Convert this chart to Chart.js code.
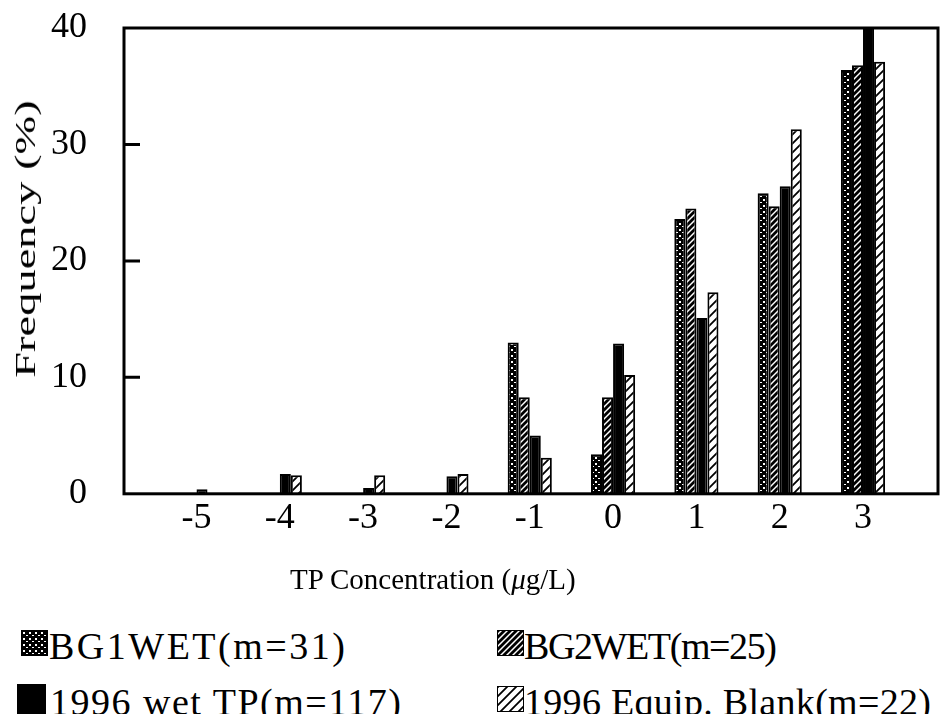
<!DOCTYPE html>
<html>
<head>
<meta charset="utf-8">
<script src="https://cdn.jsdelivr.net/npm/chart.js@4.4.1/dist/chart.umd.min.js"></script>
<style>
body{margin:0;background:#fff;}
#wrap{position:relative;width:945px;height:714px;overflow:hidden;font-family:"Liberation Serif","Times New Roman",serif;}
#cv{position:absolute;left:0;top:0;}
.lg{position:absolute;font-size:38px;line-height:38px;letter-spacing:1px;color:#000;white-space:nowrap;}
.sw{position:absolute;border:1px solid #000;}
#ytitle{position:absolute;left:25px;top:239px;font-size:30px;line-height:30px;white-space:nowrap;
  transform:translate(-50%,-50%) rotate(-90deg) scaleX(1.55);}
#xtitle{position:absolute;left:290px;top:565px;font-size:29px;line-height:29px;white-space:nowrap;}
</style>
</head>
<body>
<div id="wrap">
<canvas id="cv" width="945" height="610"></canvas>
<div id="ytitle">Frequency (%)</div>
<div id="xtitle">TP Concentration (<i>&mu;</i>g/L)</div>
<canvas class="sw" id="sw0" width="25" height="24" style="left:21px;top:630px;"></canvas>
<div class="lg" style="left:49px;top:627px;letter-spacing:2.5px;">BG1WET(m=31)</div>
<canvas class="sw" id="sw1" width="25" height="24" style="left:497px;top:630px;"></canvas>
<div class="lg" style="left:524px;top:627px;letter-spacing:-1.4px;">BG2WET(m=25)</div>
<canvas class="sw" id="sw2" width="27" height="28" style="left:17px;top:684px;"></canvas>
<div class="lg" style="left:50px;top:683px;letter-spacing:1.5px;">1996 wet TP(m=117)</div>
<canvas class="sw" id="sw3" width="25" height="24" style="left:497px;top:686px;"></canvas>
<div class="lg" style="left:524px;top:683px;letter-spacing:0.3px;">1996 Equip. Blank(m=22)</div>
</div>
<script>
// TP concentration bins (ug/L) and frequency (%) per series
var concentration=[-5,-4,-3,-2,-1,0,1,2,3];
var bg1wet=[0,0,0,0,13.0,3.4,23.6,25.8,36.4];
var bg2wet=[0,0,0,0,8.3,8.3,24.5,24.7,36.8];
var wetTP=[0.4,1.7,0.5,1.5,5.0,12.9,15.1,26.4,41];
var equipBlank=[0,1.6,1.6,1.7,3.1,10.2,17.3,31.3,37.1];
var yTicks=[0,10,20,30,40];
var seriesNames=["BG1WET(m=31)","BG2WET(m=25)","1996 wet TP(m=117)","1996 Equip. Blank(m=22)"];

/*-------------------------- hatch patterns --------------------------*/
function mkpat(kind){
    var c=document.createElement("canvas");
    var s=kind=="equip"?9:6;
    c.width=s;c.height=s;
    var g=c.getContext("2d");
    if(kind=="check"){
        g.fillStyle="#000";g.fillRect(0,0,s,s);
        g.fillStyle="#fff";
        g.fillRect(1,1,2,2);g.fillRect(4,4,2,1);
    }
    else if(kind=="solid"){
        g.fillStyle="#000";g.fillRect(0,0,s,s);
    }
    else{
        g.fillStyle="#fff";g.fillRect(0,0,s,s);
        g.strokeStyle="#000";
        g.lineWidth=kind=="dense"?2.8:1.8;
        g.beginPath();
        g.moveTo(-s,2*s);g.lineTo(2*s,-s);
        g.moveTo(-s,s);g.lineTo(s,-s);
        g.moveTo(0,2*s);g.lineTo(2*s,0);
        g.stroke();
    }
    return g.createPattern(c,"repeat");
}
var pats=[mkpat("check"),mkpat("dense"),mkpat("solid"),mkpat("equip")];

for(var k=0;k<4;k++){
    var el=document.getElementById("sw"+k);
    var sc=el.getContext("2d");
    sc.fillStyle=pats[k];
    sc.fillRect(0,0,el.width,el.height);
}

function pts(arr){
    var out=[];
    for(var i=0;i<concentration.length;i++){
        out.push({x:concentration[i],y:arr[i]});
    }
    return out;
}

var serif="'Liberation Serif','Times New Roman',serif";

// frame + inward y tick marks
var framePlugin={
    id:"frame",
    afterDatasetsDraw:function(chart){
        var a=chart.chartArea, ctx=chart.ctx, ys=chart.scales.y;
        ctx.save();
        ctx.strokeStyle="#000";
        ctx.lineWidth=3;
        ctx.strokeRect(a.left,a.top,a.right-a.left,a.bottom-a.top);
        ctx.beginPath();
        for(var i=1;i<yTicks.length-1;i++){
            var py=ys.getPixelForValue(yTicks[i]);
            ctx.moveTo(a.left,py);ctx.lineTo(a.left+16,py);
        }
        ctx.stroke();
        ctx.restore();
    }
};

var ctx=document.getElementById("cv").getContext("2d");
var chart=new Chart(ctx,{
    type:"bar",
    data:{
        datasets:[
            {label:seriesNames[0],data:pts(bg1wet),backgroundColor:pats[0]},
            {label:seriesNames[1],data:pts(bg2wet),backgroundColor:pats[1]},
            {label:seriesNames[2],data:pts(wetTP),backgroundColor:pats[2]},
            {label:seriesNames[3],data:pts(equipBlank),backgroundColor:pats[3]}
        ]
    },
    options:{
        responsive:false,
        animation:false,
        layout:{padding:{left:51,right:7,top:28,bottom:67}},
        datasets:{bar:{borderColor:"#000",borderWidth:2,categoryPercentage:0.53,barPercentage:1.0}},
        plugins:{legend:{display:false},tooltip:{enabled:false}},
        scales:{
            x:{
                type:"linear",
                offset:false,
                min:-5.87,max:3.9,
                grid:{display:false,drawTicks:false},
                border:{display:false},
                afterBuildTicks:function(sc){
                    sc.ticks=concentration.map(function(v){return {value:v};});
                },
                ticks:{color:"#000",font:{family:serif,size:36},padding:3,maxRotation:0}
            },
            y:{
                min:0,max:40,
                grid:{display:false,drawTicks:true,tickLength:37},
                border:{display:false},
                afterBuildTicks:function(sc){
                    sc.ticks=yTicks.map(function(v){return {value:v};});
                },
                ticks:{color:"#000",font:{family:serif,size:36},padding:0}
            }
        }
    },
    plugins:[framePlugin]
});
</script>
</body>
</html>
